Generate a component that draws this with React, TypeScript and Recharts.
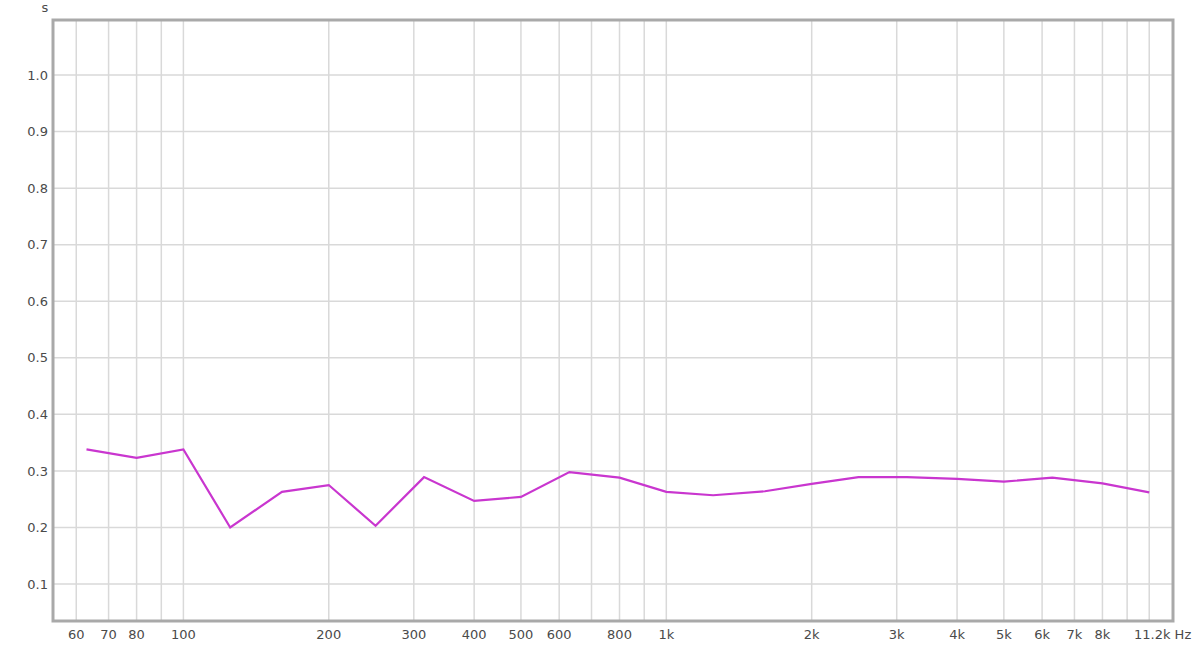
import { LineChart, Line, XAxis, YAxis, CartesianGrid, ReferenceArea } from 'recharts';

// 1/3-octave band centres (Hz) and decay time (s)
const bandFreqs = [63, 80, 100, 125, 160, 200, 250, 315, 400, 500, 630, 800, 1000, 1250, 1600, 2000, 2500, 3150, 4000, 5000, 6300, 8000, 10000];
const decaySeconds = [0.338, 0.323, 0.338, 0.2, 0.263, 0.275, 0.203, 0.289, 0.247, 0.254, 0.298, 0.288, 0.263, 0.257, 0.264, 0.277, 0.289, 0.289, 0.286, 0.281, 0.288, 0.278, 0.262];

const xTicks = [60, 70, 80, 90, 100, 200, 300, 400, 500, 600, 700, 800, 900, 1000, 2000, 3000, 4000, 5000, 6000, 7000, 8000, 9000, 10000, 11200];
const xTickLabels: Record<number, string> = {
  60: '60', 70: '70', 80: '80', 100: '100', 200: '200', 300: '300', 400: '400', 500: '500',
  600: '600', 800: '800', 1000: '1k', 2000: '2k', 3000: '3k', 4000: '4k', 5000: '5k',
  6000: '6k', 7000: '7k', 8000: '8k', 11200: '11.2k Hz',
};
const yTicks = [0.1, 0.2, 0.3, 0.4, 0.5, 0.6, 0.7, 0.8, 0.9, 1.0];

const X_MIN = 53.7;
const X_MAX = 11200;
const Y_MIN = 0.0346;
const Y_MAX = 1.0973;

const data = bandFreqs.map((f, i) => ({ freq: f, t: decaySeconds[i] }));

const FONT = '"DejaVu Sans", sans-serif';
const TEXT = '#4a4a4a';

function FreqTick({ x, y, payload }: any) {
  const label = xTickLabels[payload.value];
  if (!label) return null;
  const last = payload.value === X_MAX;
  return (
    <text
      x={last ? x - 39 : x}
      y={y}
      dy="0.71em"
      textAnchor={last ? 'start' : 'middle'}
      fill={TEXT}
      fontSize={13}
      fontFamily={FONT}
    >
      {label}
    </text>
  );
}

function UnitLabel({ viewBox }: any) {
  return (
    <text x={viewBox.x + viewBox.width - 8} y={viewBox.y - 8} textAnchor="middle" fill={TEXT} fontSize={13} fontFamily={FONT}>
      s
    </text>
  );
}

export default function App() {
  return (
    <div style={{ position: 'absolute', left: 0, top: 0, width: 1200, height: 650, background: '#fff' }}>
      <LineChart width={1200} height={650} data={data} margin={{ top: 20, right: 27, bottom: 0, left: 0 }}>
        <CartesianGrid stroke="#d9d9d9" strokeWidth={1.5} />
        <XAxis
          dataKey="freq"
          type="number"
          scale="log"
          domain={[X_MIN, X_MAX]}
          ticks={xTicks}
          interval={0}
          allowDataOverflow
          height={29}
          tickSize={0}
          tickMargin={9}
          axisLine={false}
          tickLine={false}
          tick={<FreqTick />}
        />
        <YAxis
          type="number"
          domain={[Y_MIN, Y_MAX]}
          ticks={yTicks}
          interval={0}
          allowDataOverflow
          width={53}
          tickSize={0}
          tickMargin={5}
          axisLine={false}
          tickLine={false}
          tickFormatter={(v: number) => v.toFixed(1)}
          tick={{ fill: TEXT, fontSize: 13, fontFamily: FONT }}
          label={<UnitLabel />}
        />
        <ReferenceArea
          x1={X_MIN}
          x2={X_MAX}
          y1={Y_MIN}
          y2={Y_MAX}
          fill="none"
          stroke="#a9a9a9"
          strokeWidth={3}
          ifOverflow="visible"
        />
        <Line
          type="linear"
          dataKey="t"
          stroke="#c936cf"
          strokeWidth={2.2}
          dot={false}
          activeDot={false}
          isAnimationActive={false}
        />
      </LineChart>
    </div>
  );
}
